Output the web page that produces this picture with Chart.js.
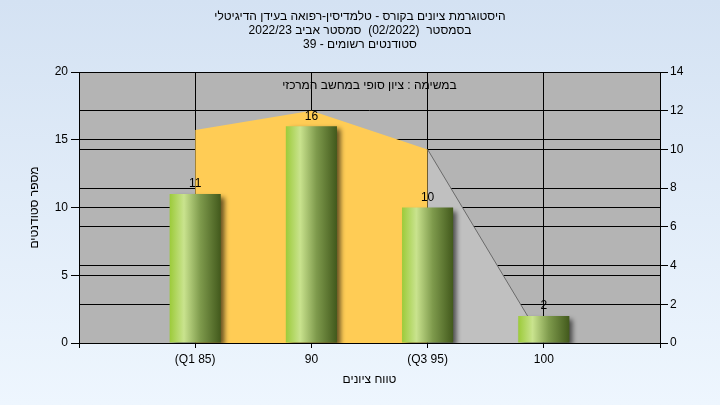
<!DOCTYPE html>
<html>
<head>
<meta charset="utf-8">
<script src="https://cdn.jsdelivr.net/npm/chart.js@4.4.1/dist/chart.umd.min.js"></script>
<style>
  body { margin: 0; background: #e4eefa; }
  canvas { display: block; }
</style>
</head>
<body>
<canvas id="histo" width="720" height="405" dir="rtl"></canvas>
<script>
// categories on the x axis (empty slots at both ends)
var gradeLabels = ["", "(Q1 85)", "90", "(Q3 95)", "100", ""];
// number of students per grade range (left axis)
var studentCounts = [null, 11, 16, 10, 2, null];
// distribution curve (right axis), split in the quartile part and the tail
var curveInner = [null, 11, 12, 10, null, null];
var curveTail = [null, null, null, 10, 0, null];
var leftTicks = [0, 5, 10, 15, 20];
var rightTicks = [0, 2, 4, 6, 8, 10, 12, 14];

var titleLines = [
    "היסטוגרמת ציונים בקורס - טלמדיסין-רפואה בעידן הדיגיטלי",
    "בסמסטר  (02/2022)  סמסטר אביב 2022/23",
    "סטודנטים רשומים - 39"
];
var noteText = "במשימה : ציון סופי במחשב המרכזי";

var fontName = "'Liberation Sans', 'DejaVu Sans', Arial, sans-serif";
Chart.defaults.font.family = fontName;
Chart.defaults.font.size = 12;
Chart.defaults.color = "#000";

// bar gradient like a green cylinder
function barFill(c) {
    var chart = c.chart;
    var xs = chart.scales.x;
    if (!chart.chartArea || !xs) return "#9cc83c";
    var cx = xs.getPixelForValue(c.dataIndex);
    var w = (xs.getPixelForValue(1) - xs.getPixelForValue(0)) * 0.44;
    var g = chart.ctx.createLinearGradient(cx - w / 2, 0, cx + w / 2, 0);
    g.addColorStop(0, "#9ccb3a");
    g.addColorStop(0.28, "#c9e38e");
    g.addColorStop(0.6, "#7e9a4c");
    g.addColorStop(1, "#42591c");
    return g;
}

var backdrop = {
    id: "backdrop",
    beforeDraw: function (chart) {
        var ctx = chart.ctx, a = chart.chartArea;
        var g = ctx.createLinearGradient(0, 0, 0, chart.height);
        g.addColorStop(0, "#d4e2f3");
        g.addColorStop(1, "#eef6fe");
        ctx.save();
        ctx.fillStyle = g;
        ctx.fillRect(0, 0, chart.width, chart.height);
        ctx.fillStyle = "#b4b4b4";
        ctx.fillRect(a.left, a.top, a.right - a.left, a.bottom - a.top);
        ctx.restore();
    },
    beforeDatasetDraw: function (chart, args) {
        if (args.index !== 0) return;
        var ctx = chart.ctx;
        ctx.save();
        ctx.shadowColor = "rgba(0,0,0,0.6)";
        ctx.shadowBlur = 5;
        ctx.shadowOffsetX = 4;
        ctx.shadowOffsetY = 3;
    },
    afterDatasetDraw: function (chart, args) {
        if (args.index !== 0) return;
        chart.ctx.restore();
    },
    afterDatasetsDraw: function (chart) {
        var ctx = chart.ctx, a = chart.chartArea;
        var meta = chart.getDatasetMeta(0);
        ctx.save();
        ctx.font = "12px " + fontName;
        ctx.fillStyle = "#000";
        ctx.textAlign = "center";
        ctx.textBaseline = "bottom";
        meta.data.forEach(function (el, i) {
            if (studentCounts[i] == null) return;
            ctx.fillText(String(studentCounts[i]), el.x, el.y - 4);
        });
        ctx.textBaseline = "middle";
        ctx.fillText(noteText, (a.left + a.right) / 2, a.top + 14);
        ctx.restore();
    }
};

var chart = new Chart(document.getElementById("histo").getContext("2d"), {
    type: "bar",
    data: {
        labels: gradeLabels,
        datasets: [
            {
                label: "סטודנטים",
                data: studentCounts,
                yAxisID: "y",
                backgroundColor: barFill,
                borderWidth: 0,
                categoryPercentage: 1,
                barPercentage: 0.44,
                order: 1
            },
            {
                type: "line",
                label: "curve",
                data: curveInner,
                yAxisID: "y1",
                fill: "origin",
                backgroundColor: "#ffcc55",
                borderWidth: 0,
                pointRadius: 0,
                tension: 0,
                order: 2
            },
            {
                type: "line",
                label: "tail",
                data: curveTail,
                yAxisID: "y1",
                fill: "origin",
                backgroundColor: "#c0c0c0",
                borderColor: "#6a6a6a",
                borderWidth: 1,
                pointRadius: 0,
                tension: 0,
                order: 2
            }
        ]
    },
    options: {
        responsive: false,
        animation: false,
        layout: { padding: 0 },
        plugins: {
            legend: { display: false },
            tooltip: { enabled: false },
            title: {
                display: true,
                text: titleLines,
                color: "#000",
                font: { size: 12, weight: "normal", lineHeight: 1.15 },
                padding: { top: 10, bottom: 20.6 }
            }
        },
        scales: {
            x: {
                type: "category",
                offset: false,
                grid: { offset: false, color: "#000", tickLength: 5, tickColor: "#000" },
                border: { color: "#000" },
                ticks: { padding: 4, autoSkip: false, maxRotation: 0, color: "#000" },
                title: { display: true, text: "טווח ציונים", color: "#000", padding: { top: 0, bottom: 18 } },
                afterFit: function (s) { s.height = 62; }
            },
            y: {
                position: "left",
                min: 0,
                max: 20,
                afterBuildTicks: function (s) { s.ticks = leftTicks.map(function (v) { return { value: v }; }); },
                grid: { color: "#000", tickLength: 8, tickColor: "#000" },
                border: { color: "#000" },
                ticks: { padding: 3, color: "#000" },
                title: { display: true, text: "מספר סטודנטים", color: "#000", padding: { top: 27, bottom: 0 } },
                afterFit: function (s) { s.width = 79; }
            },
            y1: {
                position: "right",
                min: 0,
                max: 14,
                afterBuildTicks: function (s) { s.ticks = rightTicks.map(function (v) { return { value: v }; }); },
                grid: { color: "#000", tickLength: 8, tickColor: "#000" },
                border: { color: "#000" },
                ticks: { padding: 2, color: "#000" },
                afterFit: function (s) { s.width = 60; }
            }
        }
    },
    plugins: [backdrop]
});
</script>
</body>
</html>
